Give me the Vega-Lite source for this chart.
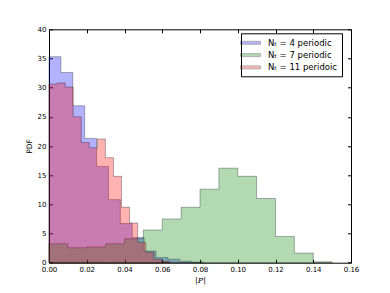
{
  "$schema": "https://vega.github.io/schema/vega-lite/v6.json",
  "width": 302,
  "height": 233.4,
  "autosize": {"type": "none"},
  "padding": {"left": 49, "top": 29.3, "right": 39, "bottom": 30.3},
  "background": "white",
  "config": {
    "view": {"stroke": "black", "strokeWidth": 1},
    "axis": {"domain": false, "grid": false, "tickColor": "black", "tickSize": -3.5, "tickWidth": 1, "labelFont": "DejaVu Sans", "labelFontSize": 7, "labelColor": "black", "titleColor": "black", "labelFlush": false, "labelOverlap": false}
  },
  "data": {"values": [
    {"label": "Nₜ = 4 periodic", "x0": 0, "x1": 0.0063, "pdf": 35.3},
    {"label": "Nₜ = 4 periodic", "x0": 0.0063, "x1": 0.0126, "pdf": 32.6},
    {"label": "Nₜ = 4 periodic", "x0": 0.0126, "x1": 0.0189, "pdf": 26.9},
    {"label": "Nₜ = 4 periodic", "x0": 0.0189, "x1": 0.0252, "pdf": 21.3},
    {"label": "Nₜ = 4 periodic", "x0": 0.0252, "x1": 0.0315, "pdf": 16.5},
    {"label": "Nₜ = 4 periodic", "x0": 0.0315, "x1": 0.0378, "pdf": 10.8},
    {"label": "Nₜ = 4 periodic", "x0": 0.0378, "x1": 0.0441, "pdf": 6.7},
    {"label": "Nₜ = 4 periodic", "x0": 0.0441, "x1": 0.0504, "pdf": 4.3},
    {"label": "Nₜ = 4 periodic", "x0": 0.0504, "x1": 0.0567, "pdf": 2.0},
    {"label": "Nₜ = 4 periodic", "x0": 0.0567, "x1": 0.063, "pdf": 0.9},
    {"label": "Nₜ = 4 periodic", "x0": 0.063, "x1": 0.0693, "pdf": 0.6},
    {"label": "Nₜ = 4 periodic", "x0": 0.0693, "x1": 0.0756, "pdf": 0.25},
    {"label": "Nₜ = 4 periodic", "x0": 0.0756, "x1": 0.0819, "pdf": 0.1},
    {"label": "Nₜ = 7 periodic", "x0": 0.00, "x1": 0.01, "pdf": 3.25},
    {"label": "Nₜ = 7 periodic", "x0": 0.01, "x1": 0.02, "pdf": 2.56},
    {"label": "Nₜ = 7 periodic", "x0": 0.02, "x1": 0.03, "pdf": 2.68},
    {"label": "Nₜ = 7 periodic", "x0": 0.03, "x1": 0.04, "pdf": 3.25},
    {"label": "Nₜ = 7 periodic", "x0": 0.04, "x1": 0.05, "pdf": 4.1},
    {"label": "Nₜ = 7 periodic", "x0": 0.05, "x1": 0.06, "pdf": 5.6},
    {"label": "Nₜ = 7 periodic", "x0": 0.06, "x1": 0.07, "pdf": 7.5},
    {"label": "Nₜ = 7 periodic", "x0": 0.07, "x1": 0.08, "pdf": 9.5},
    {"label": "Nₜ = 7 periodic", "x0": 0.08, "x1": 0.09, "pdf": 12.6},
    {"label": "Nₜ = 7 periodic", "x0": 0.09, "x1": 0.10, "pdf": 16.2},
    {"label": "Nₜ = 7 periodic", "x0": 0.10, "x1": 0.11, "pdf": 14.8},
    {"label": "Nₜ = 7 periodic", "x0": 0.11, "x1": 0.12, "pdf": 11.0},
    {"label": "Nₜ = 7 periodic", "x0": 0.12, "x1": 0.13, "pdf": 4.5},
    {"label": "Nₜ = 7 periodic", "x0": 0.13, "x1": 0.14, "pdf": 1.65},
    {"label": "Nₜ = 7 periodic", "x0": 0.14, "x1": 0.15, "pdf": 0.15},
    {"label": "Nₜ = 11 peridoic", "x0": 0, "x1": 0.00427, "pdf": 30.6},
    {"label": "Nₜ = 11 peridoic", "x0": 0.00427, "x1": 0.00854, "pdf": 30.8},
    {"label": "Nₜ = 11 peridoic", "x0": 0.00854, "x1": 0.01281, "pdf": 30.1},
    {"label": "Nₜ = 11 peridoic", "x0": 0.01281, "x1": 0.01708, "pdf": 25.0},
    {"label": "Nₜ = 11 peridoic", "x0": 0.01708, "x1": 0.02135, "pdf": 20.6},
    {"label": "Nₜ = 11 peridoic", "x0": 0.02135, "x1": 0.02562, "pdf": 19.7},
    {"label": "Nₜ = 11 peridoic", "x0": 0.02562, "x1": 0.02989, "pdf": 21.2},
    {"label": "Nₜ = 11 peridoic", "x0": 0.02989, "x1": 0.03416, "pdf": 18.0},
    {"label": "Nₜ = 11 peridoic", "x0": 0.03416, "x1": 0.03843, "pdf": 14.8},
    {"label": "Nₜ = 11 peridoic", "x0": 0.03843, "x1": 0.0427, "pdf": 9.5},
    {"label": "Nₜ = 11 peridoic", "x0": 0.0427, "x1": 0.04697, "pdf": 6.8},
    {"label": "Nₜ = 11 peridoic", "x0": 0.04697, "x1": 0.05124, "pdf": 3.5},
    {"label": "Nₜ = 11 peridoic", "x0": 0.05124, "x1": 0.05551, "pdf": 1.8},
    {"label": "Nₜ = 11 peridoic", "x0": 0.05551, "x1": 0.05978, "pdf": 0.6},
    {"label": "Nₜ = 11 peridoic", "x0": 0.05978, "x1": 0.06405, "pdf": 0.2}
  ]},
  "layer": [
    {
      "transform": [{"fold": ["x0", "x1"], "as": ["edge", "x"]}],
      "mark": {"type": "area", "interpolate": "linear", "fillOpacity": 0.3, "stroke": "black", "strokeOpacity": 0.3, "strokeWidth": 1},
      "encoding": {
        "x": {"field": "x", "type": "quantitative", "scale": {"domain": [0, 0.16], "nice": false},
          "axis": {"orient": "bottom", "values": [0, 0.02, 0.04, 0.06, 0.08, 0.1, 0.12, 0.14, 0.16], "format": ".2f", "labelPadding": 6.5,
            "title": "|P|", "titleFont": "DejaVu Serif", "titleFontStyle": "italic", "titleFontWeight": "normal", "titleFontSize": 8, "titlePadding": 4}},
        "y": {"field": "pdf", "type": "quantitative", "stack": null, "scale": {"domain": [0, 40], "nice": false},
          "axis": {"orient": "left", "values": [0, 5, 10, 15, 20, 25, 30, 35, 40], "format": "d", "labelPadding": 6.5,
            "title": "PDF", "titleFont": "DejaVu Sans", "titleFontWeight": "normal", "titleFontSize": 7.5, "titlePadding": 4}},
        "color": {"field": "label", "type": "nominal",
          "scale": {"domain": ["Nₜ = 4 periodic", "Nₜ = 7 periodic", "Nₜ = 11 peridoic"], "range": ["#0000ff", "#008000", "#ff0000"]},
          "legend": {"title": null, "orient": "none", "legendX": 192, "legendY": 4, "fillColor": "white", "strokeColor": "black",
            "padding": 4, "cornerRadius": 0, "symbolType": "M-2,-0.3H2V0.3H-2Z", "symbolSize": 100, "symbolOpacity": 0.3,
            "symbolStrokeColor": "black", "symbolStrokeWidth": 1, "labelFont": "DejaVu Sans", "labelFontSize": 8.5,
            "labelColor": "black", "labelOffset": 12, "rowPadding": 2.3}}
      }
    },
    {
      "mark": {"type": "point", "opacity": 0},
      "encoding": {
        "x": {"field": "x0", "type": "quantitative", "axis": {"orient": "top", "labels": false, "title": null, "values": [0, 0.02, 0.04, 0.06, 0.08, 0.1, 0.12, 0.14, 0.16]}},
        "y": {"field": "pdf", "type": "quantitative", "axis": {"orient": "right", "labels": false, "title": null, "values": [0, 5, 10, 15, 20, 25, 30, 35, 40]}}
      }
    }
  ],
  "resolve": {"axis": {"x": "independent", "y": "independent"}}
}
